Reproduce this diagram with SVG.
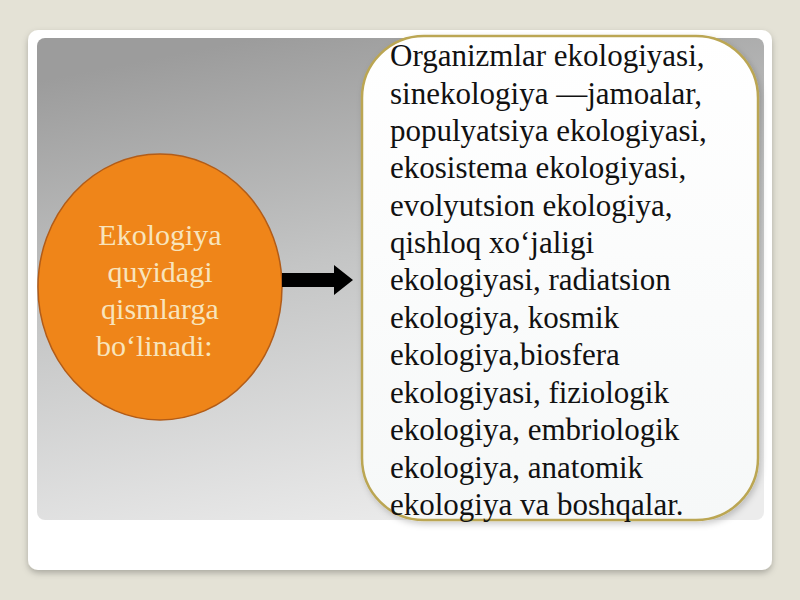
<svg xmlns="http://www.w3.org/2000/svg" width="800" height="600" viewBox="0 0 800 600">
<defs>
<linearGradient id="panel" x1="0.3" y1="0" x2="0.6" y2="1">
<stop offset="0" stop-color="#9c9c9c"/>
<stop offset="0.45" stop-color="#c4c5c5"/>
<stop offset="1" stop-color="#ececec"/>
</linearGradient>
<linearGradient id="boxfill" x1="0" y1="0" x2="0" y2="1">
<stop offset="0" stop-color="#ffffff"/>
<stop offset="1" stop-color="#f6f8f8"/>
</linearGradient>
<filter id="sh" x="-5%" y="-5%" width="110%" height="110%">
<feDropShadow dx="0" dy="3" stdDeviation="3" flood-color="#000" flood-opacity="0.25"/>
</filter>
<filter id="sh2" x="-5%" y="-5%" width="110%" height="110%">
<feDropShadow dx="2" dy="3" stdDeviation="3" flood-color="#000" flood-opacity="0.2"/>
</filter>
<style>
.main{font-family:"Liberation Serif","Times New Roman",serif;font-size:31px;fill:#111}
.circ{font-family:"Liberation Serif","Times New Roman",serif;font-size:30px;fill:#f8e4bc}
</style>
</defs>
<rect width="800" height="600" fill="#e4e2d6"/>
<rect x="28" y="30" width="744" height="540" rx="10" fill="#ffffff" filter="url(#sh)"/>
<rect x="37" y="38" width="727" height="482" rx="8" fill="url(#panel)"/>
<g id="source">
<ellipse cx="160" cy="287" rx="122" ry="133" fill="#ef8519" stroke="#b25c18" stroke-width="1.5"/>
<text class="circ" text-anchor="middle"><tspan x="160" y="245">Ekologiya</tspan><tspan x="160" y="282">quyidagi</tspan><tspan x="160" y="319">qismlarga</tspan></text>
<text class="circ" x="96" y="356">bo‘linadi:</text>
</g>
<g id="connectors">
<path d="M282 273 H334 V265 L353 280 L334 295 V287 H282 Z" fill="#000"/>
</g>
<g id="target">
<rect x="362" y="36" width="396" height="484" rx="62" fill="url(#boxfill)" stroke="#bba653" stroke-width="2.5" filter="url(#sh2)"/>
<text class="main">
<tspan x="390" y="66">Organizmlar ekologiyasi,</tspan>
<tspan x="390" y="104">sinekologiya —jamoalar,</tspan>
<tspan x="390" y="141">populyatsiya ekologiyasi,</tspan>
<tspan x="390" y="178">ekosistema ekologiyasi,</tspan>
<tspan x="390" y="216">evolyutsion ekologiya,</tspan>
<tspan x="390" y="253">qishloq xo‘jaligi</tspan>
<tspan x="390" y="290">ekologiyasi, radiatsion</tspan>
<tspan x="390" y="328">ekologiya, kosmik</tspan>
<tspan x="390" y="365">ekologiya,biosfera</tspan>
<tspan x="390" y="403">ekologiyasi, fiziologik</tspan>
<tspan x="390" y="440">ekologiya, embriologik</tspan>
<tspan x="390" y="478">ekologiya, anatomik</tspan>
<tspan x="390" y="515">ekologiya va boshqalar.</tspan>
</text>
</g>
</svg>
